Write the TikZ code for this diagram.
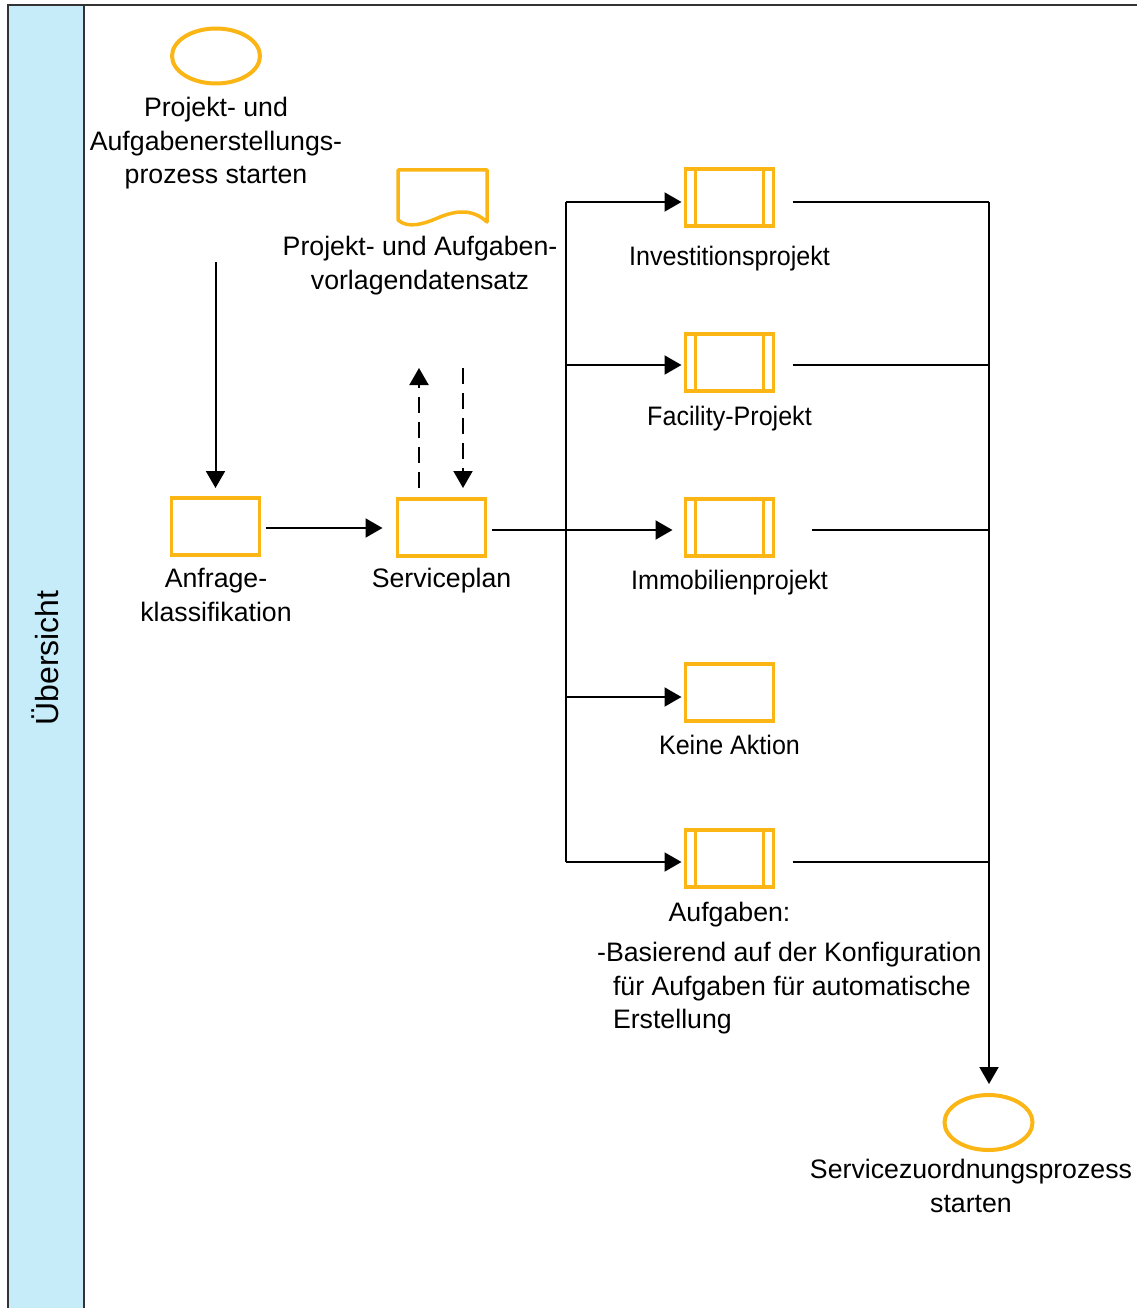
\documentclass[tikz,border=0pt]{standalone}
\usepackage{fontspec}
\setmainfont{Liberation Sans}
\usetikzlibrary{shapes.geometric,arrows.meta}
\definecolor{flowor}{HTML}{FBB515}
\definecolor{lanebg}{HTML}{C6ECF9}
\newcommand{\narrowlbl}[1]{\scalebox{0.94}[1]{#1}}
\begin{document}
\begin{tikzpicture}[x=1pt,y=-1pt,
  every node/.style={font=\fontsize{26.7}{33.5}\selectfont, inner sep=0pt, outer sep=0pt},
  lbl/.style={align=center, anchor=north},
  ev/.style={ellipse, draw=flowor, line width=4pt, minimum width=88pt, minimum height=55pt},
  act/.style={rectangle, draw=flowor, line width=3.5pt, minimum width=88pt, minimum height=57pt},
  conn/.style={line width=2pt},
  arr/.style={conn, -{Triangle[length=17pt,width=19pt]}},
  dsh/.style={dash pattern=on 16pt off 9pt}
]
\useasboundingbox (0,0) rectangle (1136,1308);

% pool frame and lane header
\fill[lanebg] (8,5) rectangle (84,1320);
\draw[line width=1.5pt, black!80] (8,5) rectangle (1160,1320);
\draw[line width=1.5pt, black!80] (84,5) -- (84,1320);
\node[rotate=90, font=\fontsize{32}{36}\selectfont] (lane) at (45,658) {Übersicht};

% start event
\node[ev] (start) at (216,56) {};
\node[lbl] (startlbl) at (216,97.5) {Projekt- und\\Aufgabenerstellungs-\\prozess starten};

% data object
\draw[flowor, line width=3.5pt, line join=round]
  (398,170) -- (487,170) -- (487,222)
  .. controls (472,208) and (455,211) .. (440,217)
  .. controls (424,224) and (408,229) .. (398,220) -- cycle;
\node[lbl] (doclbl) at (420,236.5) {Projekt- und Aufgaben-\\vorlagendatensatz};

% activities
\node[act] (anf) at (215.5,526.5) {};
\node[lbl] (anflbl) at (216,568.5) {Anfrage-\\klassifikation};
\node[act] (svc) at (441.5,527.5) {};
\node[lbl] (svclbl) at (441.5,568.5) {Serviceplan};

% subprocesses (double side bars) and the plain task
\node[act] (inv) at (729.5,197.5) {};
\node[act] (fac) at (729.5,362.5) {};
\node[act] (imm) at (729.5,527.5) {};
\node[act] (kei) at (729.5,692.5) {};
\node[act] (auf) at (729.5,858.5) {};
\foreach \n in {inv,fac,imm,auf}{
  \draw[flowor, line width=3.5pt] ([xshift=10pt]\n.north west) -- ([xshift=10pt]\n.south west);
  \draw[flowor, line width=3.5pt] ([xshift=-10pt]\n.north east) -- ([xshift=-10pt]\n.south east);
}
\node[lbl] (invlbl) at (729.5,246.5) {\narrowlbl{Investitionsprojekt}};
\node[lbl] (faclbl) at (729.5,406.5) {\narrowlbl{Facility-Projekt}};
\node[lbl] (immlbl) at (729.5,570.5) {\narrowlbl{Immobilienprojekt}};
\node[lbl] (keilbl) at (729.5,735.5) {\narrowlbl{Keine Aktion}};
\node[lbl] (auflbl) at (729.5,902.5) {Aufgaben:};
\node[anchor=north west, align=left] (aufnote) at (613,942.5)
  {\hspace*{-7pt}\llap{-}Basierend auf der Konfiguration\\für Aufgaben für automatische\\Erstellung};

% end event
\node[ev] (end) at (988.5,1122.5) {};
\node[lbl] (endlbl) at (971,1159.5) {Servicezuordnungsprozess\\starten};

% sequence flow
\coordinate (s0) at (215.5,262);
\draw[arr, shorten >=10pt] (s0) -- (anf.north);
\draw[arr, shorten <=6pt, shorten >=15pt] (anf.east |- 0,528) -- (svc.west |- 0,528);

% association with the data object
\coordinate (up0) at (419,488);
\coordinate (up1) at (419,368);
\coordinate (dn0) at (463,368);
\coordinate (dn1) at (463,488);
\draw[arr, dsh] (up0) -- (up1);
\draw[arr, dsh] (dn0) -- (dn1);

% branching bus
\coordinate (b1) at (566,202);
\coordinate (b2) at (566,365);
\coordinate (b3) at (566,530);
\coordinate (b4) at (566,697);
\coordinate (b5) at (566,862);
\draw[conn] (b1) -- (b5);
\draw[arr, shorten <=6pt, shorten >=13pt] (svc.east |- b3) -- (imm.west |- b3);
\draw[arr, shorten >=4pt] (b1) -- (inv.west |- b1);
\draw[arr, shorten >=4pt] (b2) -- (fac.west |- b2);
\draw[arr, shorten >=4pt] (b4) -- (kei.west |- b4);
\draw[arr, shorten >=4pt] (b5) -- (auf.west |- b5);

% merging bus
\coordinate (m1) at (989,202);
\coordinate (m2) at (989,365);
\coordinate (m3) at (989,530);
\coordinate (m5) at (989,862);
\draw[conn, shorten <=19pt] (inv.east |- m1) -- (m1);
\draw[conn, shorten <=19pt] (fac.east |- m2) -- (m2);
\draw[conn, shorten <=38pt] (imm.east |- m3) -- (m3);
\draw[conn, shorten <=19pt] (auf.east |- m5) -- (m5);
\draw[arr, shorten >=11pt] (m1) -- (end.north -| m1);
\end{tikzpicture}
\end{document}
